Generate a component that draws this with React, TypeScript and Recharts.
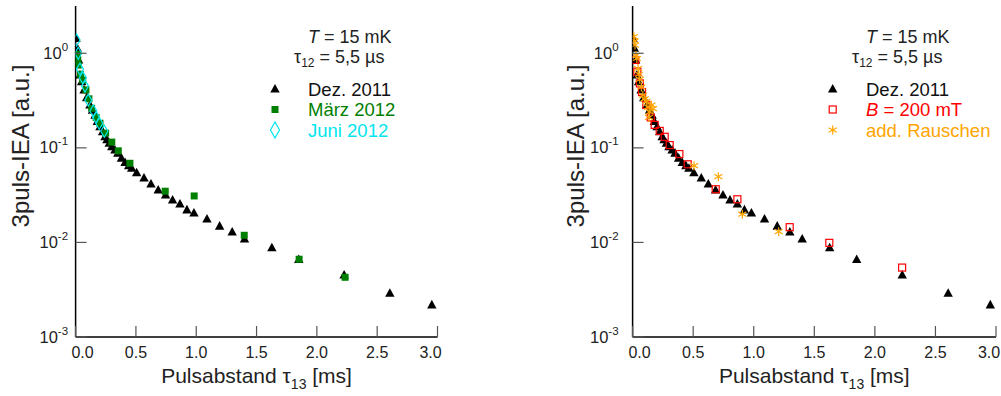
import { ScatterChart, Scatter, XAxis, YAxis } from 'recharts';

// Dez. 2011 (black triangles), same set in both panels
const dezX = [0.003, 0.014, 0.025, 0.036, 0.05, 0.07, 0.092, 0.119, 0.14, 0.161, 0.18, 0.202, 0.224, 0.244, 0.26, 0.279, 0.3, 0.326, 0.35, 0.38, 0.41, 0.44, 0.465, 0.506, 0.567, 0.625, 0.685, 0.746, 0.804, 0.865, 0.923, 0.981, 1.089, 1.194, 1.298, 1.4, 1.627, 1.85, 2.226, 2.605, 2.953];
const dezY = [1.44, 1.13, 0.85, 0.59, 0.5, 0.41, 0.34, 0.284, 0.25, 0.222, 0.19, 0.168, 0.148, 0.131, 0.122, 0.112, 0.103, 0.095, 0.088, 0.078, 0.07, 0.065, 0.061, 0.0547, 0.048, 0.0415, 0.0359, 0.0318, 0.0281, 0.0255, 0.0221, 0.0205, 0.0177, 0.0149, 0.0129, 0.0109, 0.0088, 0.0066, 0.00453, 0.0029, 0.00219];

// März 2012
const maerzX = [0.014, 0.018, 0.022, 0.04, 0.059, 0.086, 0.11, 0.133, 0.17, 0.202, 0.249, 0.3, 0.354, 0.45, 0.743, 0.983, 1.398, 1.853, 2.234];
const maerzY = [0.975, 0.85, 0.75, 0.6, 0.52, 0.41, 0.33, 0.262, 0.21, 0.182, 0.143, 0.115, 0.093, 0.0687, 0.0348, 0.031, 0.0119, 0.00664, 0.00428];

// Juni 2012
const juniX = [0.008, 0.022, 0.036, 0.06, 0.078, 0.105, 0.147, 0.17, 0.196, 0.238];
const juniY = [1.38, 1.0, 0.68, 0.55, 0.45, 0.32, 0.245, 0.21, 0.182, 0.15];

// B = 200 mT
const fieldX = [0.022, 0.039, 0.06, 0.078, 0.113, 0.15, 0.182, 0.224, 0.265, 0.306, 0.386, 0.455, 0.686, 0.865, 1.297, 1.624, 2.225];
const fieldY = [0.85, 0.64, 0.48, 0.39, 0.284, 0.21, 0.175, 0.151, 0.131, 0.107, 0.086, 0.067, 0.0365, 0.0286, 0.0145, 0.0099, 0.00542];

// add. Rauschen
const noiseX = [0.01, 0.017, 0.02, 0.028, 0.035, 0.045, 0.052, 0.059, 0.072, 0.085, 0.1, 0.113, 0.127, 0.141, 0.155, 0.168, 0.135, 0.507, 0.708, 0.906, 1.206];
const noiseY = [1.5, 1.35, 1.22, 0.95, 0.88, 0.69, 0.6, 0.53, 0.44, 0.36, 0.33, 0.31, 0.27, 0.24, 0.284, 0.26, 0.21, 0.0648, 0.0496, 0.0199, 0.013];

const xTicks = [0, 0.5, 1, 1.5, 2, 2.5, 3];
const yTicks = [0.001, 0.01, 0.1, 1];
const yExp = ['-3', '-2', '-1', '0'];

const FONT = '"Liberation Sans", Arial, Helvetica, sans-serif';
const TICK = '#555';

const pts = (xs: number[], ys: number[]) => xs.map((x, i) => ({ x, y: ys[i] }));

const Tri = ({ cx, cy }: any) => (
  <polygon points={`${cx},${cy - 5} ${cx - 4.7},${cy + 3.6} ${cx + 4.7},${cy + 3.6}`} fill="#000" />
);
const GreenSq = ({ cx, cy }: any) => <rect x={cx - 3.5} y={cy - 3.5} width={7} height={7} fill="#008000" />;
const Diamond = ({ cx, cy }: any) => (
  <polygon points={`${cx},${cy - 6} ${cx + 3.5},${cy} ${cx},${cy + 6} ${cx - 3.5},${cy}`} fill="none" stroke="#00e5ee" strokeWidth={1.2} />
);
const RedSq = ({ cx, cy }: any) => (
  <rect x={cx - 3.5} y={cy - 3.5} width={7} height={7} fill="none" stroke="#ff0000" strokeWidth={1.2} />
);
const Star = ({ cx, cy }: any) => (
  <g stroke="#ffa500" strokeWidth={1.2}>
    <line x1={cx} y1={cy - 4.5} x2={cx} y2={cy + 4.5} />
    <line x1={cx - 4} y1={cy - 2.3} x2={cx + 4} y2={cy + 2.3} />
    <line x1={cx - 4} y1={cy + 2.3} x2={cx + 4} y2={cy - 2.3} />
  </g>
);

const BottomTick = ({ x, y, payload }: any) => {
  const v = payload.value;
  const dx = v === 0 ? 7 : v === 3 ? -7 : 0;
  return (
    <g>
      <line x1={x} y1={y} x2={x} y2={y - 11} stroke={TICK} strokeWidth={1.2} />
      <text x={x + dx} y={y + 21} textAnchor="middle" fontSize={16} fontFamily={FONT} fill="#222">
        {v.toFixed(1)}
      </text>
    </g>
  );
};
const TopTick = ({ x, y }: any) => <line x1={x} y1={y} x2={x} y2={y + 11} stroke={TICK} strokeWidth={1.2} />;
const RightTick = ({ x, y }: any) => <line x1={x} y1={y} x2={x - 11} y2={y} stroke={TICK} strokeWidth={1.2} />;
const makeLeftTick = (gap: number) => ({ x, y, payload, index }: any) => (
  <g>
    <line x1={x} y1={y} x2={x + 11} y2={y} stroke={TICK} strokeWidth={1.2} />
    <text x={x - gap} y={y + 5.5} textAnchor="end" fontSize={16.5} fontFamily={FONT} fill="#222">
      10<tspan dy={-8} fontSize={11.5}>{yExp[yTicks.indexOf(payload.value)] ?? yExp[index]}</tspan>
    </text>
  </g>
);

type Series = { data: { x: number; y: number }[]; shape: any };
type LegendItem = { label: any; color: string; icon: any };

interface PanelProps {
  left: number;
  width: number;
  yAxisWidth: number;
  rightMargin: number;
  labelGap: number;
  series: Series[];
  legend: LegendItem[];
  textX: number;
  tauX: number;
  markerX: number;
  yTitleX: number;
}

function Panel(p: PanelProps) {
  const plotCenter = (p.yAxisWidth + p.width - p.rightMargin) / 2;
  return (
    <div style={{ position: 'absolute', left: p.left, top: 0, width: p.width, height: 396 }}>
      <ScatterChart width={p.width} height={396} margin={{ top: 6, right: p.rightMargin, bottom: 0, left: 0 }}>
        <XAxis
          xAxisId="b"
          type="number"
          dataKey="x"
          domain={[0, 3]}
          ticks={xTicks}
          height={59}
          tickSize={0}
          tickMargin={0}
          tickLine={false}
          axisLine={{ stroke: '#000', strokeWidth: 1.5 }}
          tick={<BottomTick />}
          allowDataOverflow
        />
        <XAxis
          xAxisId="t"
          orientation="top"
          type="number"
          dataKey="x"
          domain={[0, 3]}
          ticks={xTicks}
          height={0}
          tickSize={0}
          tickMargin={0}
          tickLine={false}
          axisLine={{ stroke: '#000', strokeWidth: 1.5 }}
          tick={<TopTick />}
          allowDataOverflow
        />
        <YAxis
          yAxisId="l"
          type="number"
          dataKey="y"
          scale="log"
          domain={[0.001, 3.162]}
          ticks={yTicks}
          width={p.yAxisWidth}
          tickSize={0}
          tickMargin={0}
          tickLine={false}
          axisLine={{ stroke: '#000', strokeWidth: 1.5 }}
          tick={makeLeftTick(p.labelGap)}
          allowDataOverflow
        />
        <YAxis
          yAxisId="r"
          orientation="right"
          type="number"
          dataKey="y"
          scale="log"
          domain={[0.001, 3.162]}
          ticks={yTicks}
          width={0}
          tickSize={0}
          tickMargin={0}
          tickLine={false}
          axisLine={{ stroke: '#000', strokeWidth: 1.5 }}
          tick={<RightTick />}
          allowDataOverflow
        />
        {p.series.map((s, i) => (
          <Scatter key={i} xAxisId="b" yAxisId="l" data={s.data} shape={s.shape} isAnimationActive={false} />
        ))}
      </ScatterChart>
      <svg
        width={p.width}
        height={396}
        style={{ position: 'absolute', left: 0, top: 0, pointerEvents: 'none' }}
        fontFamily={FONT}
      >
        <text
          x={p.yTitleX}
          y={146}
          transform={`rotate(-90 ${p.yTitleX} 146)`}
          textAnchor="middle"
          fontSize={24}
          fill="#222"
          dominantBaseline="middle"
        >
          3puls-IEA [a.u.]
        </text>
        <text x={plotCenter} y={383} textAnchor="middle" fontSize={21} fill="#222">
          Pulsabstand τ<tspan dy={6} fontSize={14}>13</tspan>
          <tspan dy={-6}> [ms]</tspan>
        </text>
        <text x={p.textX} y={42.5} fontSize={18} fill="#222">
          <tspan fontStyle="italic">T</tspan> = 15 mK
        </text>
        <text x={p.tauX} y={63} fontSize={18} fill="#222">
          τ<tspan dy={4} fontSize={12}>12</tspan>
          <tspan dy={-4}> = 5,5 µs</tspan>
        </text>
        {p.legend.map((l, i) => {
          const cy = 89 + i * 20.5;
          return (
            <g key={i}>
              {l.icon(p.markerX, cy)}
              <text x={p.textX} y={cy + 6.5} fontSize={18.5} fill={l.color}>
                {l.label}
              </text>
            </g>
          );
        })}
      </svg>
    </div>
  );
}

const dez = pts(dezX, dezY);

export default function App() {
  return (
    <div style={{ position: 'absolute', left: 0, top: 0, width: 1001, height: 396, background: '#fff', fontFamily: FONT }}>
      <Panel
        left={0}
        width={500}
        yAxisWidth={75.6}
        rightMargin={62.5}
        labelGap={7.5}
        series={[
          { data: dez, shape: Tri },
          { data: pts(maerzX, maerzY), shape: GreenSq },
          { data: pts(juniX, juniY), shape: Diamond },
        ]}
        legend={[
          { label: 'Dez. 2011', color: '#111', icon: (x: number, y: number) => <Tri cx={x} cy={y} /> },
          { label: 'März 2012', color: '#008000', icon: (x: number, y: number) => <GreenSq cx={x} cy={y} /> },
          {
            label: 'Juni 2012',
            color: '#00e5ee',
            icon: (x: number, y: number) => (
              <polygon points={`${x},${y - 8} ${x + 4.5},${y} ${x},${y + 8} ${x - 4.5},${y}`} fill="none" stroke="#00e5ee" strokeWidth={1.2} />
            ),
          },
        ]}
        textX={308}
        tauX={294}
        markerX={275}
        yTitleX={23}
      />
      <Panel
        left={500}
        width={501}
        yAxisWidth={132.6}
        rightMargin={5}
        labelGap={14}
        series={[
          { data: dez, shape: Tri },
          { data: pts(fieldX, fieldY), shape: RedSq },
          { data: pts(noiseX, noiseY), shape: Star },
        ]}
        legend={[
          { label: 'Dez. 2011', color: '#111', icon: (x: number, y: number) => <Tri cx={x} cy={y} /> },
          {
            label: (
              <>
                <tspan fontStyle="italic">B</tspan> = 200 mT
              </>
            ),
            color: '#ff0000',
            icon: (x: number, y: number) => <RedSq cx={x} cy={y} />,
          },
          { label: 'add. Rauschen', color: '#ffa500', icon: (x: number, y: number) => <Star cx={x} cy={y} /> },
        ]}
        textX={366}
        tauX={352}
        markerX={332.7}
        yTitleX={78}
      />
    </div>
  );
}
